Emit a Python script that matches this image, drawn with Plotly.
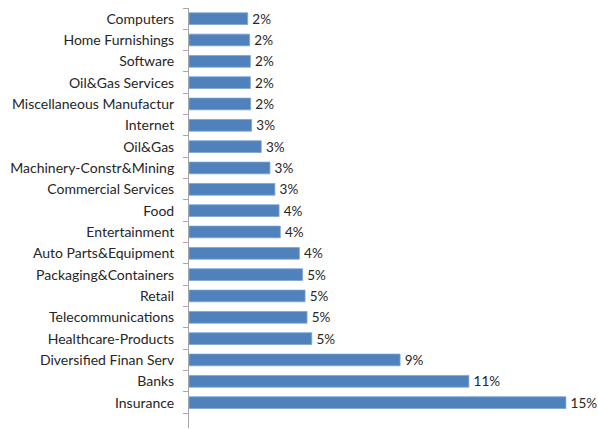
import plotly.graph_objects as go

# Industry weights, listed bottom to top as plotted
industries = [
    "Insurance", "Banks", "Diversified Finan Serv", "Healthcare-Products",
    "Telecommunications", "Retail", "Packaging&Containers", "Auto Parts&Equipment",
    "Entertainment", "Food", "Commercial Services", "Machinery-Constr&Mining",
    "Oil&Gas", "Internet", "Miscellaneous Manufactur", "Oil&Gas Services",
    "Software", "Home Furnishings", "Computers",
]
weights = [
    0.1523, 0.1131, 0.0853, 0.0496,
    0.0477, 0.0469, 0.0459, 0.0446,
    0.0369, 0.0364, 0.0347, 0.0327,
    0.0292, 0.0253, 0.0249, 0.0248,
    0.0248, 0.0245, 0.0237,
]

fig = go.Figure(
    go.Bar(
        x=weights,
        y=industries,
        orientation="h",
        marker=dict(color="#4F81BD", line=dict(color="#7FA3D1", width=0.8)),
        # thin space keeps the value label a few pixels clear of the bar end
        texttemplate="\u2009%{x:.0%}",
        textposition="outside",
        constraintext="none",
        textfont=dict(family="Lato", size=13.5, color="#262626"),
        cliponaxis=False,
    )
)

fig.update_layout(
    width=598,
    height=429,
    margin=dict(l=189, r=18, t=8, b=1),
    paper_bgcolor="white",
    plot_bgcolor="white",
    bargap=0.45,
    showlegend=False,
    font=dict(family="Lato", size=14, color="#262626"),
)

fig.update_xaxes(
    range=[0, 0.158],
    visible=False,
    showgrid=False,
    zeroline=False,
)

fig.update_yaxes(
    type="category",
    range=[-1.19, 18.5],
    showline=True,
    linecolor="#A6A6A6",
    linewidth=1,
    ticks="outside",
    tickson="boundaries",
    ticklen=5,
    tickcolor="#A6A6A6",
    ticklabelstandoff=11,
    showgrid=False,
    automargin=False,
    tickfont=dict(family="Lato", size=14, color="#262626"),
)

fig.write_html("out.html")
